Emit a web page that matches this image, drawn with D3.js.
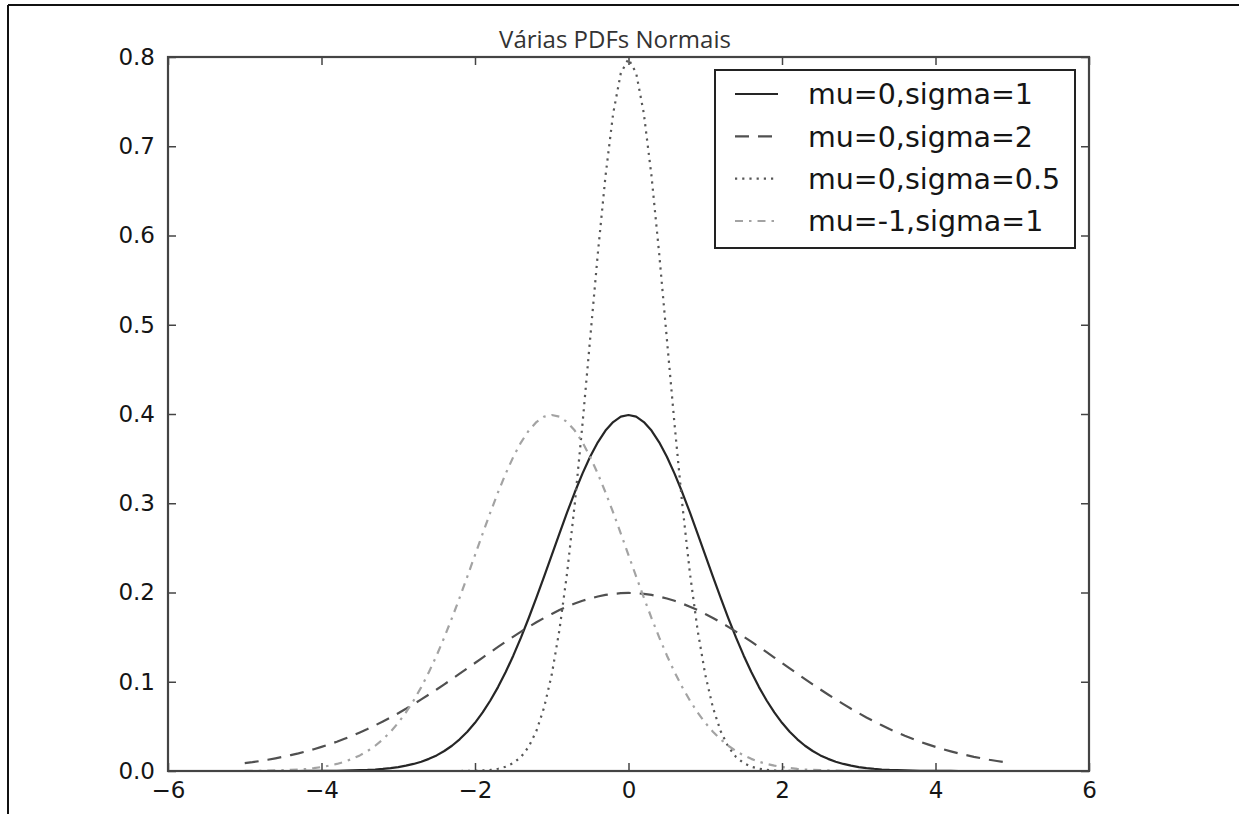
<!DOCTYPE html>
<html>
<head>
<meta charset="utf-8">
<script src="https://cdn.jsdelivr.net/npm/d3@7/dist/d3.min.js"></script>
<style>
  html, body { margin: 0; padding: 0; background: #fff; }
  svg { display: block; }
</style>
</head>
<body>
<svg id="chart" width="1239" height="814"></svg>
<script>
// x grid shared by every curve
const xs = [
  -5.0,-4.9,-4.8,-4.7,-4.6,-4.5,-4.4,-4.3,-4.2,-4.1,
  -4.0,-3.9,-3.8,-3.7,-3.6,-3.5,-3.4,-3.3,-3.2,-3.1,
  -3.0,-2.9,-2.8,-2.7,-2.6,-2.5,-2.4,-2.3,-2.2,-2.1,
  -2.0,-1.9,-1.8,-1.7,-1.6,-1.5,-1.4,-1.3,-1.2,-1.1,
  -1.0,-0.9,-0.8,-0.7,-0.6,-0.5,-0.4,-0.3,-0.2,-0.1,
   0.0, 0.1, 0.2, 0.3, 0.4, 0.5, 0.6, 0.7, 0.8, 0.9,
   1.0, 1.1, 1.2, 1.3, 1.4, 1.5, 1.6, 1.7, 1.8, 1.9,
   2.0, 2.1, 2.2, 2.3, 2.4, 2.5, 2.6, 2.7, 2.8, 2.9,
   3.0, 3.1, 3.2, 3.3, 3.4, 3.5, 3.6, 3.7, 3.8, 3.9,
   4.0, 4.1, 4.2, 4.3, 4.4, 4.5, 4.6, 4.7, 4.8, 4.9
];

// mu=0, sigma=1
const pdfMu0Sigma1 = [
  0,0,0,0,0,0,0,0,0.0001,0.0001,
  0.0001,0.0002,0.0003,0.0004,0.0006,0.0009,0.0012,0.0017,0.0024,0.0033,
  0.0044,0.0060,0.0079,0.0104,0.0136,0.0175,0.0224,0.0283,0.0355,0.0440,
  0.0540,0.0656,0.0790,0.0940,0.1109,0.1295,0.1497,0.1714,0.1942,0.2179,
  0.2420,0.2661,0.2897,0.3123,0.3332,0.3521,0.3683,0.3814,0.3910,0.3970,
  0.3989,0.3970,0.3910,0.3814,0.3683,0.3521,0.3332,0.3123,0.2897,0.2661,
  0.2420,0.2179,0.1942,0.1714,0.1497,0.1295,0.1109,0.0940,0.0790,0.0656,
  0.0540,0.0440,0.0355,0.0283,0.0224,0.0175,0.0136,0.0104,0.0079,0.0060,
  0.0044,0.0033,0.0024,0.0017,0.0012,0.0009,0.0006,0.0004,0.0003,0.0002,
  0.0001,0.0001,0.0001,0,0,0,0,0,0,0
];

// mu=0, sigma=2
const pdfMu0Sigma2 = [
  0.0088,0.0099,0.0112,0.0126,0.0142,0.0159,0.0178,0.0198,0.0220,0.0244,
  0.0270,0.0298,0.0328,0.0361,0.0395,0.0432,0.0470,0.0512,0.0555,0.0600,
  0.0648,0.0697,0.0749,0.0802,0.0857,0.0913,0.0971,0.1030,0.1090,0.1150,
  0.1210,0.1271,0.1331,0.1390,0.1449,0.1506,0.1562,0.1615,0.1666,0.1715,
  0.1760,0.1803,0.1841,0.1876,0.1907,0.1933,0.1955,0.1973,0.1985,0.1992,
  0.1995,0.1992,0.1985,0.1973,0.1955,0.1933,0.1907,0.1876,0.1841,0.1803,
  0.1760,0.1715,0.1666,0.1615,0.1562,0.1506,0.1449,0.1390,0.1331,0.1271,
  0.1210,0.1150,0.1090,0.1030,0.0971,0.0913,0.0857,0.0802,0.0749,0.0697,
  0.0648,0.0600,0.0555,0.0512,0.0470,0.0432,0.0395,0.0361,0.0328,0.0298,
  0.0270,0.0244,0.0220,0.0198,0.0178,0.0159,0.0142,0.0126,0.0112,0.0099
];

// mu=0, sigma=0.5
const pdfMu0Sigma05 = [
  0,0,0,0,0,0,0,0,0,0,
  0,0,0,0,0,0,0,0,0,0,
  0,0,0,0,0,0,0,0,0,0.0001,
  0.0003,0.0006,0.0012,0.0025,0.0048,0.0089,0.0158,0.0272,0.0448,0.0710,
  0.1080,0.1580,0.2218,0.2994,0.3884,0.4840,0.5794,0.6664,0.7366,0.7820,
  0.7979,0.7820,0.7366,0.6664,0.5794,0.4840,0.3884,0.2994,0.2218,0.1580,
  0.1080,0.0710,0.0448,0.0272,0.0158,0.0089,0.0048,0.0025,0.0012,0.0006,
  0.0003,0.0001,0,0,0,0,0,0,0,0,
  0,0,0,0,0,0,0,0,0,0,
  0,0,0,0,0,0,0,0,0,0
];

// mu=-1, sigma=1
const pdfMuM1Sigma1 = [
  0.0001,0.0002,0.0003,0.0004,0.0006,0.0009,0.0012,0.0017,0.0024,0.0033,
  0.0044,0.0060,0.0079,0.0104,0.0136,0.0175,0.0224,0.0283,0.0355,0.0440,
  0.0540,0.0656,0.0790,0.0940,0.1109,0.1295,0.1497,0.1714,0.1942,0.2179,
  0.2420,0.2661,0.2897,0.3123,0.3332,0.3521,0.3683,0.3814,0.3910,0.3970,
  0.3989,0.3970,0.3910,0.3814,0.3683,0.3521,0.3332,0.3123,0.2897,0.2661,
  0.2420,0.2179,0.1942,0.1714,0.1497,0.1295,0.1109,0.0940,0.0790,0.0656,
  0.0540,0.0440,0.0355,0.0283,0.0224,0.0175,0.0136,0.0104,0.0079,0.0060,
  0.0044,0.0033,0.0024,0.0017,0.0012,0.0009,0.0006,0.0004,0.0003,0.0002,
  0.0001,0.0001,0.0001,0,0,0,0,0,0,0,
  0,0,0,0,0,0,0,0,0,0
];

const seriesLabels = ["mu=0,sigma=1", "mu=0,sigma=2", "mu=0,sigma=0.5", "mu=-1,sigma=1"];
const xTicks = [-6, -4, -2, 0, 2, 4, 6];
const xTickLabels = ["\u22126", "\u22124", "\u22122", "0", "2", "4", "6"];
const yTicks = [0, 0.1, 0.2, 0.3, 0.4, 0.5, 0.6, 0.7, 0.8];
const yTickLabels = ["0.0", "0.1", "0.2", "0.3", "0.4", "0.5", "0.6", "0.7", "0.8"];
const titleText = "Várias PDFs Normais";

const seriesValues = [pdfMu0Sigma1, pdfMu0Sigma2, pdfMu0Sigma05, pdfMuM1Sigma1];
const seriesStyles = [
  { stroke: "#262626", dash: null },
  { stroke: "#505050", dash: "14,9" },
  { stroke: "#575757", dash: "2.2,5" },
  { stroke: "#a3a3a3", dash: "8,6,2.5,6" }
];

const svg = d3.select("#chart");
const W = 1239, H = 814;
const plot = { left: 168, right: 1089, top: 57, bottom: 771 };

// outer frame edges
svg.append("line").attr("x1", 8).attr("x2", W).attr("y1", 5).attr("y2", 5)
  .attr("stroke", "#111").attr("stroke-width", 2);
svg.append("line").attr("x1", 8).attr("x2", 8).attr("y1", 5).attr("y2", H)
  .attr("stroke", "#111").attr("stroke-width", 2);

const x = d3.scaleLinear().domain([-6, 6]).range([plot.left, plot.right]);
const y = d3.scaleLinear().domain([0, 0.8]).range([plot.bottom, plot.top]);

svg.append("defs").append("clipPath").attr("id", "plot-clip")
  .append("rect")
  .attr("x", plot.left).attr("y", plot.top)
  .attr("width", plot.right - plot.left).attr("height", plot.bottom - plot.top);

// curves
const line = d3.line()
  .x((d, i) => x(xs[i]))
  .y(d => y(d));

const curves = svg.append("g").attr("clip-path", "url(#plot-clip)");
seriesValues.forEach((vals, k) => {
  curves.append("path")
    .datum(vals)
    .attr("d", line)
    .attr("fill", "none")
    .attr("stroke", seriesStyles[k].stroke)
    .attr("stroke-width", 2.2)
    .attr("stroke-linecap", "butt")
    .attr("stroke-linejoin", "round")
    .attr("stroke-dasharray", seriesStyles[k].dash);
});

// axes: inward ticks on all four sides, labels on bottom and left
const tickFont = "'DejaVu Sans', sans-serif";
const xLabel = d => xTickLabels[xTicks.indexOf(d)];
const yLabel = d => yTickLabels[yTicks.indexOf(d)];

const gBottom = svg.append("g").attr("transform", `translate(0,${plot.bottom})`)
  .call(d3.axisBottom(x).tickValues(xTicks).tickFormat(xLabel).tickSize(-8).tickPadding(11));
const gTop = svg.append("g").attr("transform", `translate(0,${plot.top})`)
  .call(d3.axisTop(x).tickValues(xTicks).tickFormat("").tickSize(-8));
const gLeft = svg.append("g").attr("transform", `translate(${plot.left},0)`)
  .call(d3.axisLeft(y).tickValues(yTicks).tickFormat(yLabel).tickSize(-8).tickPadding(13));
const gRight = svg.append("g").attr("transform", `translate(${plot.right},0)`)
  .call(d3.axisRight(y).tickValues(yTicks).tickFormat("").tickSize(-8));

[gBottom, gTop, gLeft, gRight].forEach(g => {
  g.select(".domain").remove();
  g.selectAll(".tick line").attr("stroke", "#444").attr("stroke-width", 1.5);
  g.selectAll(".tick text")
    .attr("fill", "#151515")
    .style("font-family", tickFont)
    .style("font-size", "23px");
});

// plot frame
svg.append("rect")
  .attr("x", plot.left).attr("y", plot.top)
  .attr("width", plot.right - plot.left).attr("height", plot.bottom - plot.top)
  .attr("fill", "none").attr("stroke", "#444").attr("stroke-width", 2.2);

// title
svg.append("text")
  .attr("x", 615).attr("y", 48)
  .attr("text-anchor", "middle")
  .attr("fill", "#333")
  .style("font-family", "'Open Sans', sans-serif")
  .style("font-size", "24px")
  .text(titleText);

// legend
const legend = svg.append("g");
legend.append("rect")
  .attr("x", 715).attr("y", 70).attr("width", 360).attr("height", 178)
  .attr("fill", "#fff").attr("stroke", "#222").attr("stroke-width", 2);

const rowY = d3.scalePoint().domain(d3.range(seriesLabels.length)).range([94, 221]);
seriesLabels.forEach((lab, k) => {
  const cy = rowY(k);
  legend.append("line")
    .attr("x1", 735).attr("x2", 778).attr("y1", cy).attr("y2", cy)
    .attr("stroke", seriesStyles[k].stroke)
    .attr("stroke-width", 2.2)
    .attr("stroke-dasharray", seriesStyles[k].dash);
  legend.append("text")
    .attr("x", 808).attr("y", cy)
    .attr("dy", "0.36em")
    .attr("fill", "#151515")
    .style("font-family", tickFont)
    .style("font-size", "28.5px")
    .text(lab);
});
</script>
</body>
</html>
